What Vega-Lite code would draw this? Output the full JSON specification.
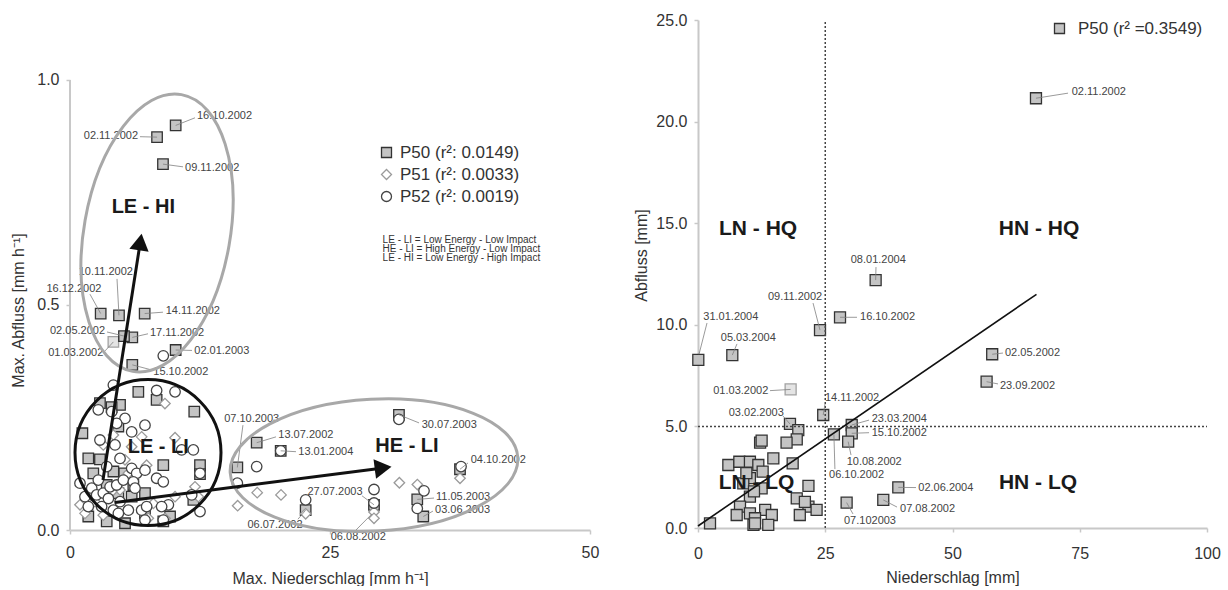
{
  "$schema": "https://vega.github.io/schema/vega-lite/v6.json",
  "padding": {"left": 10, "top": 12, "right": 0, "bottom": 0},
  "spacing": 108,
  "bounds": "flush",
  "background": "white",
  "config": {
    "font": "Liberation Sans",
    "view": {"stroke": null},
    "axis": {"domainColor": "#c8c8c8", "domainWidth": 2, "tickColor": "#c8c8c8", "tickWidth": 1.5, "tickSize": 4, "grid": false, "labelFlush": false, "labelFontSize": 16, "labelColor": "#333333", "titleFontSize": 16, "titleFontWeight": "normal", "titleColor": "#333333", "labelFont": "Liberation Sans", "titleFont": "Liberation Sans"},
    "legend": {"labelFont": "Liberation Sans", "symbolStrokeWidth": 1.3}
  },
  "resolve": {
    "scale": {"shape": "independent", "fill": "independent", "stroke": "independent", "opacity": "independent"},
    "legend": {"shape": "independent", "fill": "independent", "stroke": "independent"}
  },
  "datasets": {
    "left": [
      {"series":"P50","x":10.16,"y":0.899,"q":"ok"},{"series":"P50","x":8.37,"y":0.873,"q":"ok"},{"series":"P50","x":8.94,"y":0.813,"q":"ok"},
      {"series":"P50","x":2.95,"y":0.481,"q":"ok"},{"series":"P50","x":4.71,"y":0.477,"q":"ok"},{"series":"P50","x":7.18,"y":0.481,"q":"ok"},
      {"series":"P50","x":5.99,"y":0.428,"q":"ok"},{"series":"P50","x":5.19,"y":0.431,"q":"ok"},{"series":"P50","x":4.17,"y":0.418,"q":"unsicher"},
      {"series":"P50","x":10.16,"y":0.4,"q":"ok"},{"series":"P50","x":5.99,"y":0.367,"q":"ok"},{"series":"P50","x":16.09,"y":0.139,"q":"ok"},
      {"series":"P50","x":17.95,"y":0.194,"q":"ok"},{"series":"P50","x":20.26,"y":0.176,"q":"ok"},{"series":"P50","x":31.63,"y":0.256,"q":"ok"},
      {"series":"P50","x":37.5,"y":0.135,"q":"ok"},{"series":"P50","x":33.39,"y":0.068,"q":"ok"},{"series":"P50","x":33.97,"y":0.03,"q":"ok"},
      {"series":"P50","x":29.23,"y":0.056,"q":"ok"},{"series":"P50","x":22.66,"y":0.044,"q":"ok"},
      {"series":"P50","x":6.57,"y":0.307,"q":"ok"},{"series":"P50","x":8.33,"y":0.289,"q":"ok"},{"series":"P50","x":2.88,"y":0.282,"q":"ok"},
      {"series":"P50","x":4.81,"y":0.278,"q":"ok"},{"series":"P50","x":4.0,"y":0.273,"q":"ok"},{"series":"P50","x":11.95,"y":0.263,"q":"ok"},
      {"series":"P50","x":4.65,"y":0.23,"q":"ok"},{"series":"P50","x":1.19,"y":0.215,"q":"ok"},{"series":"P50","x":1.76,"y":0.159,"q":"ok"},
      {"series":"P50","x":2.88,"y":0.157,"q":"ok"},{"series":"P50","x":8.97,"y":0.144,"q":"ok"},{"series":"P50","x":12.5,"y":0.144,"q":"ok"},
      {"series":"P50","x":12.5,"y":0.124,"q":"ok"},{"series":"P50","x":2.24,"y":0.126,"q":"ok"},{"series":"P50","x":4.17,"y":0.13,"q":"ok"},
      {"series":"P50","x":5.22,"y":0.126,"q":"ok"},{"series":"P50","x":3.53,"y":0.1,"q":"ok"},{"series":"P50","x":4.65,"y":0.082,"q":"ok"},
      {"series":"P50","x":5.93,"y":0.074,"q":"ok"},{"series":"P50","x":7.21,"y":0.082,"q":"ok"},{"series":"P50","x":11.86,"y":0.067,"q":"ok"},
      {"series":"P50","x":1.76,"y":0.03,"q":"ok"},{"series":"P50","x":3.53,"y":0.019,"q":"ok"},{"series":"P50","x":5.29,"y":0.015,"q":"ok"},
      {"series":"P50","x":7.21,"y":0.037,"q":"ok"},{"series":"P50","x":8.97,"y":0.019,"q":"ok"},{"series":"P50","x":9.62,"y":0.03,"q":"ok"},
      {"series":"P50","x":6.09,"y":0.1,"q":"ok"},
      {"series":"P51","x":9.13,"y":0.281,"q":"ok"},{"series":"P51","x":4.17,"y":0.211,"q":"ok"},{"series":"P51","x":6.89,"y":0.207,"q":"ok"},
      {"series":"P51","x":5.93,"y":0.185,"q":"ok"},{"series":"P51","x":7.37,"y":0.144,"q":"ok"},{"series":"P51","x":5.29,"y":0.156,"q":"ok"},
      {"series":"P51","x":12.02,"y":0.096,"q":"ok"},{"series":"P51","x":0.96,"y":0.056,"q":"ok"},{"series":"P51","x":2.4,"y":0.063,"q":"ok"},
      {"series":"P51","x":5.61,"y":0.126,"q":"ok"},{"series":"P51","x":8.01,"y":0.059,"q":"ok"},{"series":"P51","x":10.1,"y":0.074,"q":"ok"},
      {"series":"P51","x":7.53,"y":0.026,"q":"ok"},{"series":"P51","x":3.2,"y":0.033,"q":"ok"},{"series":"P51","x":12.34,"y":0.074,"q":"ok"},
      {"series":"P51","x":9.13,"y":0.026,"q":"ok"},{"series":"P51","x":4.81,"y":0.089,"q":"ok"},{"series":"P51","x":4.01,"y":0.085,"q":"ok"},
      {"series":"P51","x":1.44,"y":0.037,"q":"ok"},{"series":"P51","x":10.1,"y":0.205,"q":"ok"},{"series":"P51","x":3.2,"y":0.189,"q":"ok"},
      {"series":"P51","x":16.12,"y":0.054,"q":"ok"},{"series":"P51","x":18.0,"y":0.083,"q":"ok"},{"series":"P51","x":20.29,"y":0.078,"q":"ok"},
      {"series":"P51","x":31.67,"y":0.105,"q":"ok"},{"series":"P51","x":33.4,"y":0.101,"q":"ok"},{"series":"P51","x":29.23,"y":0.04,"q":"ok"},
      {"series":"P51","x":29.23,"y":0.026,"q":"ok"},{"series":"P51","x":22.66,"y":0.036,"q":"ok"},{"series":"P51","x":37.5,"y":0.115,"q":"ok"},
      {"series":"P52","x":4.17,"y":0.322,"q":"ok"},{"series":"P52","x":8.33,"y":0.31,"q":"ok"},{"series":"P52","x":10.1,"y":0.307,"q":"ok"},
      {"series":"P52","x":2.72,"y":0.267,"q":"ok"},{"series":"P52","x":4.01,"y":0.263,"q":"ok"},{"series":"P52","x":5.29,"y":0.248,"q":"ok"},
      {"series":"P52","x":7.21,"y":0.233,"q":"ok"},{"series":"P52","x":5.93,"y":0.218,"q":"ok"},{"series":"P52","x":4.49,"y":0.237,"q":"ok"},
      {"series":"P52","x":2.88,"y":0.2,"q":"ok"},{"series":"P52","x":4.33,"y":0.189,"q":"ok"},{"series":"P52","x":11.86,"y":0.178,"q":"ok"},
      {"series":"P52","x":10.74,"y":0.178,"q":"ok"},{"series":"P52","x":3.53,"y":0.141,"q":"ok"},{"series":"P52","x":4.81,"y":0.159,"q":"ok"},
      {"series":"P52","x":5.93,"y":0.137,"q":"ok"},{"series":"P52","x":6.41,"y":0.126,"q":"ok"},{"series":"P52","x":7.21,"y":0.133,"q":"ok"},
      {"series":"P52","x":8.33,"y":0.115,"q":"ok"},{"series":"P52","x":8.97,"y":0.107,"q":"ok"},{"series":"P52","x":12.5,"y":0.126,"q":"ok"},
      {"series":"P52","x":0.96,"y":0.104,"q":"ok"},{"series":"P52","x":2.09,"y":0.093,"q":"ok"},{"series":"P52","x":2.56,"y":0.078,"q":"ok"},
      {"series":"P52","x":3.2,"y":0.082,"q":"ok"},{"series":"P52","x":3.85,"y":0.096,"q":"ok"},{"series":"P52","x":4.49,"y":0.1,"q":"ok"},
      {"series":"P52","x":5.13,"y":0.111,"q":"ok"},{"series":"P52","x":6.09,"y":0.107,"q":"ok"},{"series":"P52","x":3.69,"y":0.07,"q":"ok"},
      {"series":"P52","x":4.81,"y":0.063,"q":"ok"},{"series":"P52","x":3.04,"y":0.052,"q":"ok"},{"series":"P52","x":4.17,"y":0.044,"q":"ok"},
      {"series":"P52","x":1.76,"y":0.052,"q":"ok"},{"series":"P52","x":5.61,"y":0.044,"q":"ok"},{"series":"P52","x":6.89,"y":0.044,"q":"ok"},
      {"series":"P52","x":9.46,"y":0.056,"q":"ok"},{"series":"P52","x":8.81,"y":0.052,"q":"ok"},{"series":"P52","x":4.65,"y":0.037,"q":"ok"},
      {"series":"P52","x":12.5,"y":0.041,"q":"ok"},{"series":"P52","x":7.37,"y":0.052,"q":"ok"},{"series":"P52","x":11.7,"y":0.078,"q":"ok"},
      {"series":"P52","x":6.25,"y":0.093,"q":"ok"},{"series":"P52","x":2.72,"y":0.111,"q":"ok"},{"series":"P52","x":1.44,"y":0.074,"q":"ok"},
      {"series":"P52","x":8.97,"y":0.387,"q":"ok"},{"series":"P52","x":7.21,"y":0.022,"q":"ok"},{"series":"P52","x":8.97,"y":0.022,"q":"ok"},
      {"series":"P52","x":17.95,"y":0.141,"q":"ok"},{"series":"P52","x":16.09,"y":0.104,"q":"ok"},{"series":"P52","x":20.26,"y":0.176,"q":"ok"},
      {"series":"P52","x":31.63,"y":0.246,"q":"ok"},{"series":"P52","x":37.6,"y":0.141,"q":"ok"},{"series":"P52","x":29.23,"y":0.09,"q":"ok"},
      {"series":"P52","x":34.04,"y":0.087,"q":"ok"},{"series":"P52","x":33.39,"y":0.048,"q":"ok"},{"series":"P52","x":22.66,"y":0.067,"q":"ok"},
      {"series":"P52","x":29.23,"y":0.06,"q":"ok"}
    ],
    "leftLab": [
      {"d":"16.10.2002","x":10.16,"y":0.899,"ex":12.02,"ey":0.916,"tx":12.21,"ty":0.92,"side":"r"},
      {"d":"02.11.2002","x":8.37,"y":0.873,"ex":6.73,"ey":0.874,"tx":6.54,"ty":0.876,"side":"l"},
      {"d":"09.11.2002","x":8.94,"y":0.813,"ex":10.87,"ey":0.807,"tx":11.06,"ty":0.804,"side":"r"},
      {"d":"16.12.2002","x":2.95,"y":0.481,"ex":1.92,"ey":0.524,"tx":0.38,"ty":0.536,"side":"c"},
      {"d":"10.11.2002","x":4.71,"y":0.477,"ex":4.52,"ey":0.558,"tx":3.44,"ty":0.573,"side":"c"},
      {"d":"14.11.2002","x":7.18,"y":0.481,"ex":8.94,"ey":0.484,"tx":9.2,"ty":0.487,"side":"r"},
      {"d":"02.05.2002","x":5.19,"y":0.431,"ex":3.56,"ey":0.44,"tx":3.37,"ty":0.442,"side":"l"},
      {"d":"17.11.2002","x":5.99,"y":0.428,"ex":7.5,"ey":0.436,"tx":7.69,"ty":0.437,"side":"r"},
      {"d":"01.03.2002","x":4.17,"y":0.418,"ex":3.37,"ey":0.398,"tx":3.2,"ty":0.393,"side":"l"},
      {"d":"02.01.2003","x":10.16,"y":0.4,"ex":11.73,"ey":0.399,"tx":11.95,"ty":0.398,"side":"r"},
      {"d":"15.10.2002","x":5.99,"y":0.367,"ex":7.79,"ey":0.356,"tx":8.01,"ty":0.352,"side":"r"},
      {"d":"07.10.2003","x":16.09,"y":0.139,"ex":16.63,"ey":0.233,"tx":17.47,"ty":0.246,"side":"c"},
      {"d":"13.07.2002","x":17.95,"y":0.194,"ex":19.81,"ey":0.207,"tx":20.03,"ty":0.211,"side":"r"},
      {"d":"13.01.2004","x":20.26,"y":0.176,"ex":21.73,"ey":0.174,"tx":21.95,"ty":0.174,"side":"r"},
      {"d":"30.07.2003","x":31.63,"y":0.256,"ex":33.56,"ey":0.238,"tx":33.82,"ty":0.233,"side":"r"},
      {"d":"04.10.2002","x":37.5,"y":0.135,"ex":38.27,"ey":0.149,"tx":38.53,"ty":0.156,"side":"r"},
      {"d":"11.05.2003","x":33.39,"y":0.068,"ex":35.0,"ey":0.071,"tx":35.19,"ty":0.073,"side":"r"},
      {"d":"03.06.2003","x":33.97,"y":0.03,"ex":34.9,"ey":0.042,"tx":35.1,"ty":0.044,"side":"r"},
      {"d":"27.07.2003","x":29.23,"y":0.056,"ex":28.08,"ey":0.076,"tx":25.48,"ty":0.085,"side":"c"},
      {"d":"06.08.2002","x":29.0,"y":0.035,"ex":27.5,"ey":0.0,"tx":27.72,"ty":-0.015,"side":"c"},
      {"d":"06.07.2002","x":22.66,"y":0.044,"ex":21.92,"ey":0.024,"tx":19.71,"ty":0.011,"side":"c"}
    ],
    "leftShapes": [
      {"k":"LE-HI","x":8.37,"y":0.66},
      {"k":"LE-LI","x":7.5,"y":0.172},
      {"k":"HE-LI","x":29.23,"y":0.144}
    ],
    "arrows": [
      {"a":"HI","x":3.17,"y":0.111,"end":false},{"a":"HI","x":6.76,"y":0.64,"end":true},
      {"a":"LI","x":4.33,"y":0.061,"end":false},{"a":"LI","x":30.11,"y":0.138,"end":true}
    ],
    "leftRegions": [
      {"t":"LE - HI","x":7.05,"y":0.718},
      {"t":"LE - LI","x":8.49,"y":0.184},
      {"t":"HE - LI","x":32.4,"y":0.187}
    ],
    "right": [
      {"series":"P50","x":0.06,"y":8.27,"q":"ok"},{"series":"P50","x":6.74,"y":8.51,"q":"ok"},{"series":"P50","x":23.97,"y":9.74,"q":"ok"},
      {"series":"P50","x":27.9,"y":10.37,"q":"ok"},{"series":"P50","x":18.2,"y":6.82,"q":"unsicher"},{"series":"P50","x":24.6,"y":5.56,"q":"ok"},
      {"series":"P50","x":18.07,"y":5.12,"q":"ok"},{"series":"P50","x":30.2,"y":5.07,"q":"ok"},{"series":"P50","x":30.2,"y":4.66,"q":"ok"},
      {"series":"P50","x":29.5,"y":4.25,"q":"ok"},{"series":"P50","x":26.7,"y":4.61,"q":"ok"},{"series":"P50","x":29.2,"y":1.25,"q":"ok"},
      {"series":"P50","x":36.4,"y":1.38,"q":"ok"},{"series":"P50","x":39.35,"y":2.0,"q":"ok"},{"series":"P50","x":34.9,"y":12.2,"q":"ok"},
      {"series":"P50","x":66.4,"y":21.15,"q":"ok"},{"series":"P50","x":57.8,"y":8.55,"q":"ok"},{"series":"P50","x":56.7,"y":7.2,"q":"ok"},
      {"series":"P50","x":19.7,"y":4.82,"q":"ok"},{"series":"P50","x":19.4,"y":4.36,"q":"ok"},{"series":"P50","x":17.4,"y":4.2,"q":"ok"},
      {"series":"P50","x":12.2,"y":4.2,"q":"ok"},{"series":"P50","x":12.5,"y":4.3,"q":"ok"},{"series":"P50","x":14.8,"y":3.43,"q":"ok"},
      {"series":"P50","x":5.96,"y":3.1,"q":"ok"},{"series":"P50","x":8.12,"y":3.26,"q":"ok"},{"series":"P50","x":10.2,"y":3.26,"q":"ok"},
      {"series":"P50","x":11.85,"y":3.1,"q":"ok"},{"series":"P50","x":18.6,"y":3.18,"q":"ok"},{"series":"P50","x":12.7,"y":2.77,"q":"ok"},
      {"series":"P50","x":10.2,"y":2.45,"q":"ok"},{"series":"P50","x":8.9,"y":2.2,"q":"ok"},{"series":"P50","x":21.7,"y":2.07,"q":"ok"},
      {"series":"P50","x":12.5,"y":1.95,"q":"ok"},{"series":"P50","x":10.2,"y":1.54,"q":"ok"},{"series":"P50","x":19.4,"y":1.46,"q":"ok"},
      {"series":"P50","x":21.7,"y":1.05,"q":"ok"},{"series":"P50","x":23.3,"y":0.89,"q":"ok"},{"series":"P50","x":20.0,"y":0.64,"q":"ok"},
      {"series":"P50","x":8.25,"y":1.05,"q":"ok"},{"series":"P50","x":10.2,"y":0.72,"q":"ok"},{"series":"P50","x":13.2,"y":0.89,"q":"ok"},
      {"series":"P50","x":7.6,"y":0.64,"q":"ok"},{"series":"P50","x":11.2,"y":0.48,"q":"ok"},{"series":"P50","x":14.5,"y":0.64,"q":"ok"},
      {"series":"P50","x":13.8,"y":0.15,"q":"ok"},{"series":"P50","x":10.9,"y":0.15,"q":"ok"},{"series":"P50","x":2.36,"y":0.23,"q":"ok"},
      {"series":"P50","x":21.0,"y":1.29,"q":"ok"},{"series":"P50","x":11.2,"y":0.23,"q":"ok"},{"series":"P50","x":9.5,"y":2.7,"q":"ok"},
      {"series":"P50","x":11.0,"y":1.8,"q":"ok"}
    ],
    "rightLab": [
      {"d":"31.01.2004","x":0.2,"y":8.55,"ex":1.77,"ey":10.09,"tx":1.04,"ty":10.4,"side":"r"},
      {"d":"05.03.2004","x":6.74,"y":8.51,"ex":7.66,"ey":9.06,"tx":9.88,"ty":9.37,"side":"c"},
      {"d":"09.11.2002","x":23.97,"y":9.74,"ex":22.6,"ey":11.07,"tx":19.06,"ty":11.38,"side":"c"},
      {"d":"16.10.2002","x":27.9,"y":10.37,"ex":31.24,"ey":10.37,"tx":31.83,"ty":10.37,"side":"r"},
      {"d":"01.03.2002","x":18.2,"y":6.82,"ex":14.15,"ey":6.76,"tx":13.81,"ty":6.76,"side":"l"},
      {"d":"14.11.2002","x":24.6,"y":5.56,"ex":24.95,"ey":6.1,"tx":24.95,"ty":6.38,"side":"r"},
      {"d":"03.02.2003","x":18.07,"y":5.12,"ex":16.7,"ey":5.51,"tx":11.45,"ty":5.67,"side":"c"},
      {"d":"23.03.2004","x":30.2,"y":5.07,"ex":33.6,"ey":5.31,"tx":34.13,"ty":5.35,"side":"r"},
      {"d":"15.10.2002","x":30.2,"y":4.66,"ex":33.6,"ey":4.69,"tx":34.13,"ty":4.69,"side":"r"},
      {"d":"10.08.2002","x":29.5,"y":4.25,"ex":30.06,"ey":3.59,"tx":29.21,"ty":3.26,"side":"r"},
      {"d":"06.10.2002","x":26.7,"y":4.61,"ex":26.9,"ey":2.9,"tx":25.74,"ty":2.61,"side":"r"},
      {"d":"07.102003","x":29.2,"y":1.25,"ex":30.45,"ey":0.69,"tx":28.68,"ty":0.36,"side":"r"},
      {"d":"07.08.2002","x":36.4,"y":1.38,"ex":39.1,"ey":1.03,"tx":39.69,"ty":0.92,"side":"r"},
      {"d":"02.06.2004","x":39.35,"y":2.0,"ex":42.83,"ey":1.99,"tx":43.28,"ty":1.95,"side":"r"},
      {"d":"08.01.2004","x":34.9,"y":12.2,"ex":34.97,"ey":12.84,"tx":35.42,"ty":13.19,"side":"c"},
      {"d":"02.11.2002","x":66.4,"y":21.15,"ex":72.7,"ey":21.4,"tx":73.42,"ty":21.44,"side":"r"},
      {"d":"02.05.2002","x":57.8,"y":8.55,"ex":59.92,"ey":8.61,"tx":60.31,"ty":8.63,"side":"r"},
      {"d":"23.09.2002","x":56.7,"y":7.2,"ex":58.94,"ey":7.09,"tx":59.33,"ty":7.0,"side":"r"}
    ],
    "regression": [{"x":0,"y":0.1},{"x":66.5,"y":11.5}],
    "rightRegions": [
      {"t":"LN - HQ","x":11.8,"y":14.7},
      {"t":"HN - HQ","x":67.0,"y":14.7},
      {"t":"LN - LQ","x":11.5,"y":2.2},
      {"t":"HN - LQ","x":66.8,"y":2.2}
    ]
  },
  "hconcat": [
    {
      "width": 520,
      "height": 510,
      "layer": [
        {
          "data": {"name": "left"},
          "mark": {"type": "point", "opacity": 1, "size": 110, "strokeWidth": 1.3},
          "encoding": {
            "x": {"field": "x", "type": "quantitative", "scale": {"domain": [0, 50], "nice": false}, "axis": {"values": [0, 25, 50], "title": "Max. Niederschlag [mm h⁻¹]", "labelPadding": 10, "titlePadding": 10}},
            "y": {"field": "y", "type": "quantitative", "scale": {"domain": [0, 1.1333], "nice": false}, "axis": {"values": [0, 0.5, 1], "format": ".1f", "domain": false, "title": "Max. Abfluss [mm h⁻¹]", "titleY": 290, "labelPadding": 7, "titlePadding": 10}},
            "shape": {"field": "series", "type": "nominal", "scale": {"domain": ["P50", "P51", "P52"], "range": ["square", "diamond", "circle"]},
              "legend": {"orient": "none", "legendX": 308, "legendY": 124, "title": null, "labelFontSize": 17, "labelColor": "#333333", "rowPadding": 4, "labelOffset": 5, "labelExpr": "datum.label == 'P50' ? 'P50 (r²: 0.0149)' : (datum.label == 'P51' ? 'P51 (r²: 0.0033)' : 'P52 (r²: 0.0019)')"}},
            "fill": {"field": "series", "type": "nominal", "scale": {"domain": ["P50", "P51", "P52"], "range": ["#c4c4c4", "#ffffff", "#ffffff"]},
              "legend": {"orient": "none", "legendX": 308, "legendY": 124, "title": null, "labelFontSize": 17, "labelColor": "#333333", "rowPadding": 4, "labelOffset": 5, "labelExpr": "datum.label == 'P50' ? 'P50 (r²: 0.0149)' : (datum.label == 'P51' ? 'P51 (r²: 0.0033)' : 'P52 (r²: 0.0019)')"}},
            "stroke": {"field": "series", "type": "nominal", "scale": {"domain": ["P50", "P51", "P52"], "range": ["#333333", "#9a9a9a", "#444444"]},
              "legend": {"orient": "none", "legendX": 308, "legendY": 124, "title": null, "labelFontSize": 17, "labelColor": "#333333", "rowPadding": 4, "labelOffset": 5, "labelExpr": "datum.label == 'P50' ? 'P50 (r²: 0.0149)' : (datum.label == 'P51' ? 'P51 (r²: 0.0033)' : 'P52 (r²: 0.0019)')"}},
            "opacity": {"field": "q", "type": "nominal", "scale": {"domain": ["ok", "unsicher"], "range": [1, 0.45]}, "legend": null}
          }
        },
        {
          "data": {"values": [{}]},
          "mark": {"type": "rule", "color": "#c8c8c8", "strokeWidth": 2},
          "encoding": {"x": {"datum": 0, "type": "quantitative"}, "y": {"datum": 0, "type": "quantitative"}, "y2": {"datum": 1}}
        },
        {
          "data": {"name": "leftLab"},
          "mark": {"type": "rule", "color": "#808080", "strokeWidth": 0.8},
          "encoding": {"x": {"field": "x", "type": "quantitative"}, "y": {"field": "y", "type": "quantitative"}, "x2": {"field": "ex"}, "y2": {"field": "ey"}}
        },
        {
          "data": {"name": "leftLab"},
          "transform": [{"filter": "datum.side == 'r'"}],
          "mark": {"type": "text", "align": "left", "baseline": "middle", "fontSize": 11, "color": "#444444", "font": "Liberation Sans"},
          "encoding": {"x": {"field": "tx", "type": "quantitative"}, "y": {"field": "ty", "type": "quantitative"}, "text": {"field": "d"}}
        },
        {
          "data": {"name": "leftLab"},
          "transform": [{"filter": "datum.side == 'l'"}],
          "mark": {"type": "text", "align": "right", "baseline": "middle", "fontSize": 11, "color": "#444444", "font": "Liberation Sans"},
          "encoding": {"x": {"field": "tx", "type": "quantitative"}, "y": {"field": "ty", "type": "quantitative"}, "text": {"field": "d"}}
        },
        {
          "data": {"name": "leftLab"},
          "transform": [{"filter": "datum.side == 'c'"}],
          "mark": {"type": "text", "align": "center", "baseline": "middle", "fontSize": 11, "color": "#444444", "font": "Liberation Sans"},
          "encoding": {"x": {"field": "tx", "type": "quantitative"}, "y": {"field": "ty", "type": "quantitative"}, "text": {"field": "d"}}
        },
        {
          "data": {"name": "leftShapes"},
          "transform": [{"filter": "datum.k == 'LE-HI'"}],
          "mark": {"type": "point", "filled": false, "opacity": 1, "color": "#a8a8a8", "strokeWidth": 3, "size": 78961, "angle": 10,
            "shape": "M0,-1C0.2872,-1 0.52,-0.5523 0.52,0C0.52,0.5523 0.2872,1 0,1C-0.2872,1 -0.52,0.5523 -0.52,0C-0.52,-0.5523 -0.2872,-1 0,-1Z"},
          "encoding": {"x": {"field": "x", "type": "quantitative"}, "y": {"field": "y", "type": "quantitative"}}
        },
        {
          "data": {"name": "leftShapes"},
          "transform": [{"filter": "datum.k == 'LE-LI'"}],
          "mark": {"type": "point", "filled": false, "opacity": 1, "color": "#111111", "strokeWidth": 3, "size": 21316, "shape": "circle"},
          "encoding": {"x": {"field": "x", "type": "quantitative"}, "y": {"field": "y", "type": "quantitative"}}
        },
        {
          "data": {"name": "leftShapes"},
          "transform": [{"filter": "datum.k == 'HE-LI'"}],
          "mark": {"type": "point", "filled": false, "opacity": 1, "color": "#a8a8a8", "strokeWidth": 3, "size": 82944, "angle": -3,
            "shape": "M-1,0C-1,-0.253 -0.5523,-0.458 0,-0.458C0.5523,-0.458 1,-0.253 1,0C1,0.253 0.5523,0.458 0,0.458C-0.5523,0.458 -1,0.253 -1,0Z"},
          "encoding": {"x": {"field": "x", "type": "quantitative"}, "y": {"field": "y", "type": "quantitative"}}
        },
        {
          "data": {"name": "arrows"},
          "mark": {"type": "line", "color": "#111111", "strokeWidth": 3},
          "encoding": {"x": {"field": "x", "type": "quantitative"}, "y": {"field": "y", "type": "quantitative"}, "detail": {"field": "a"}}
        },
        {
          "data": {"name": "arrows"},
          "transform": [{"filter": "datum.end && datum.a == 'HI'"}],
          "mark": {"type": "point", "shape": "triangle-up", "filled": true, "opacity": 1, "color": "#111111", "size": 380, "angle": 8.9},
          "encoding": {"x": {"field": "x", "type": "quantitative"}, "y": {"field": "y", "type": "quantitative"}}
        },
        {
          "data": {"name": "arrows"},
          "transform": [{"filter": "datum.end && datum.a == 'LI'"}],
          "mark": {"type": "point", "shape": "triangle-up", "filled": true, "opacity": 1, "color": "#111111", "size": 380, "angle": 82.6},
          "encoding": {"x": {"field": "x", "type": "quantitative"}, "y": {"field": "y", "type": "quantitative"}}
        },
        {
          "data": {"name": "leftRegions"},
          "mark": {"type": "text", "fontSize": 20, "fontWeight": "bold", "color": "#1a1a1a", "align": "center", "baseline": "middle", "font": "Liberation Sans"},
          "encoding": {"x": {"field": "x", "type": "quantitative"}, "y": {"field": "y", "type": "quantitative"}, "text": {"field": "t"}}
        },
        {
          "data": {"values": [{}]},
          "mark": {"type": "text", "fontSize": 10, "color": "#333333", "align": "left", "baseline": "top", "lineHeight": 9, "font": "Liberation Sans",
            "text": ["LE - LI = Low Energy - Low Impact", "HE - LI = High Energy - Low Impact", "LE - HI = Low Energy - High Impact"]},
          "encoding": {"x": {"datum": 30.06, "type": "quantitative"}, "y": {"datum": 0.655, "type": "quantitative"}}
        }
      ]
    },
    {
      "width": 509,
      "height": 508,
      "layer": [
        {
          "data": {"name": "right"},
          "mark": {"type": "point", "opacity": 1, "size": 121, "strokeWidth": 1.3},
          "encoding": {
            "x": {"field": "x", "type": "quantitative", "scale": {"domain": [0, 100], "nice": false}, "axis": {"values": [0, 25, 50, 75, 100], "title": "Niederschlag [mm]", "labelPadding": 13, "titlePadding": 8}},
            "y": {"field": "y", "type": "quantitative", "scale": {"domain": [0, 25], "nice": false}, "axis": {"values": [0, 5, 10, 15, 20, 25], "format": ".1f", "title": "Abfluss [mm]", "titleY": 235, "labelPadding": 7, "titlePadding": 6}},
            "shape": {"field": "series", "type": "nominal", "scale": {"domain": ["P50"], "range": ["square"]},
              "legend": {"orient": "none", "legendX": 353, "legendY": 0, "title": null, "labelFontSize": 17, "labelColor": "#333333", "labelOffset": 10, "labelExpr": "'P50 (r² =0.3549)'"}},
            "fill": {"field": "series", "type": "nominal", "scale": {"domain": ["P50"], "range": ["#c4c4c4"]},
              "legend": {"orient": "none", "legendX": 353, "legendY": 0, "title": null, "labelFontSize": 17, "labelColor": "#333333", "labelOffset": 10, "labelExpr": "'P50 (r² =0.3549)'"}},
            "stroke": {"field": "series", "type": "nominal", "scale": {"domain": ["P50"], "range": ["#333333"]},
              "legend": {"orient": "none", "legendX": 353, "legendY": 0, "title": null, "labelFontSize": 17, "labelColor": "#333333", "labelOffset": 10, "labelExpr": "'P50 (r² =0.3549)'"}},
            "opacity": {"field": "q", "type": "nominal", "scale": {"domain": ["ok", "unsicher"], "range": [1, 0.45]}, "legend": null}
          }
        },
        {
          "data": {"values": [{}]},
          "mark": {"type": "rule", "color": "#444444", "strokeWidth": 1.5, "strokeDash": [2, 2]},
          "encoding": {"x": {"datum": 25, "type": "quantitative"}, "y": {"datum": 0, "type": "quantitative"}, "y2": {"datum": 25}}
        },
        {
          "data": {"values": [{}]},
          "mark": {"type": "rule", "color": "#444444", "strokeWidth": 1.5, "strokeDash": [2, 2]},
          "encoding": {"x": {"datum": 0, "type": "quantitative"}, "x2": {"datum": 100}, "y": {"datum": 5, "type": "quantitative"}}
        },
        {
          "data": {"name": "regression"},
          "mark": {"type": "line", "color": "#111111", "strokeWidth": 1.6},
          "encoding": {"x": {"field": "x", "type": "quantitative"}, "y": {"field": "y", "type": "quantitative"}}
        },
        {
          "data": {"name": "rightLab"},
          "mark": {"type": "rule", "color": "#808080", "strokeWidth": 0.8},
          "encoding": {"x": {"field": "x", "type": "quantitative"}, "y": {"field": "y", "type": "quantitative"}, "x2": {"field": "ex"}, "y2": {"field": "ey"}}
        },
        {
          "data": {"name": "rightLab"},
          "transform": [{"filter": "datum.side == 'r'"}],
          "mark": {"type": "text", "align": "left", "baseline": "middle", "fontSize": 11, "color": "#444444", "font": "Liberation Sans"},
          "encoding": {"x": {"field": "tx", "type": "quantitative"}, "y": {"field": "ty", "type": "quantitative"}, "text": {"field": "d"}}
        },
        {
          "data": {"name": "rightLab"},
          "transform": [{"filter": "datum.side == 'l'"}],
          "mark": {"type": "text", "align": "right", "baseline": "middle", "fontSize": 11, "color": "#444444", "font": "Liberation Sans"},
          "encoding": {"x": {"field": "tx", "type": "quantitative"}, "y": {"field": "ty", "type": "quantitative"}, "text": {"field": "d"}}
        },
        {
          "data": {"name": "rightLab"},
          "transform": [{"filter": "datum.side == 'c'"}],
          "mark": {"type": "text", "align": "center", "baseline": "middle", "fontSize": 11, "color": "#444444", "font": "Liberation Sans"},
          "encoding": {"x": {"field": "tx", "type": "quantitative"}, "y": {"field": "ty", "type": "quantitative"}, "text": {"field": "d"}}
        },
        {
          "data": {"name": "rightRegions"},
          "mark": {"type": "text", "fontSize": 21, "fontWeight": "bold", "color": "#1a1a1a", "align": "center", "baseline": "middle", "font": "Liberation Sans"},
          "encoding": {"x": {"field": "x", "type": "quantitative"}, "y": {"field": "y", "type": "quantitative"}, "text": {"field": "t"}}
        }
      ]
    }
  ]
}
